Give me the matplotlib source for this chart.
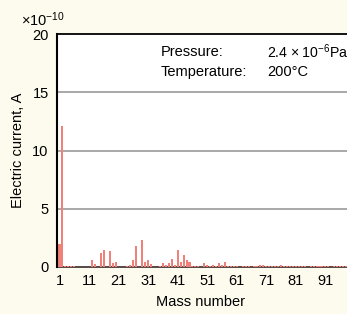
import numpy as np
import matplotlib
matplotlib.use('Agg')
import matplotlib.pyplot as plt

plt.rcParams['font.family'] = ['Liberation Sans', 'DejaVu Sans']
plt.rcParams['mathtext.fontset'] = 'custom'
plt.rcParams['mathtext.rm'] = 'Liberation Sans'
plt.rcParams['mathtext.it'] = 'Liberation Sans:italic'

# ion current (x1e-10 A) for mass numbers 1..99
mass = np.arange(1, 100)
current = [
    2.0, 12.1, 0.12, 0.12, 0.12, 0.12, 0, 0, 0, 0,        # 1-10
    0, 0.58, 0.23, 0, 1.2, 1.44, 0, 1.35, 0.32, 0.4,      # 11-20
    0, 0, 0, 0.12, 0.15, 0.58, 1.78, 0, 2.3, 0.4,         # 21-30
    0.58, 0.23, 0, 0, 0.1, 0.32, 0.15, 0.38, 0.66, 0.15,  # 31-40
    1.44, 0.4, 1.02, 0.58, 0.4, 0.1, 0.1, 0.1, 0, 0.32,   # 41-50
    0.15, 0.1, 0.15, 0.1, 0.32, 0.15, 0.4, 0.1, 0.1, 0.1, # 51-60
    0.1, 0, 0.1, 0.1, 0.1, 0, 0.1, 0.1, 0.18, 0.18,       # 61-70
    0.1, 0.1, 0.1, 0.1, 0.1, 0.18, 0.1, 0.1, 0.1, 0.1,    # 71-80
    0.1, 0.1, 0.1, 0.1, 0, 0.1, 0.1, 0.1, 0.1, 0.1,       # 81-90
    0.1, 0.1, 0, 0.1, 0.1, 0.1, 0.1, 0.1, 0.1,            # 91-99
]
xticks = [1, 11, 21, 31, 41, 51, 61, 71, 81, 91]
yticks = [0, 5, 10, 15, 20]

bg = '#fdfbee'
fig = plt.figure(figsize=(3.47, 3.14), dpi=100, facecolor=bg)
ax = fig.add_axes([57 / 347, 47 / 314, 295 / 347, 233 / 314])
ax.set_facecolor('white')

ax.bar(mass, current, width=0.7, color='#ef8178', zorder=2)

ax.set_xlim(0.15, 100)
ax.set_ylim(0, 20)
ax.set_xticks(xticks)
ax.set_yticks(yticks)
ax.tick_params(length=0, labelsize=10.5, colors='black')
ax.tick_params(axis='y', pad=6)
ax.tick_params(axis='x', pad=5)

for y in [5, 10, 15]:
    ax.axhline(y, color='#a8a8a8', lw=1.4, zorder=1)

ax.spines['right'].set_visible(False)
ax.spines['left'].set_linewidth(1.5)
ax.spines['top'].set_linewidth(1.3)
ax.spines['bottom'].set_linewidth(1.2)
ax.spines['bottom'].set_color('#3a2a2a')
ax.spines['bottom'].set_zorder(1.5)

ax.set_ylabel('Electric current, A', fontsize=10.5)
ax.yaxis.set_label_coords(-0.11, 0.5)

fig.text(200 / 347, 1 - 302 / 314, 'Mass number', fontsize=10.5,
         ha='center', va='center')
fig.text(21 / 347, 1 - 26 / 314, r'$\mathregular{\times10^{-10}}$',
         fontsize=10.5, ha='left', va='baseline')

fig.text(161 / 347, 1 - 52 / 314, 'Pressure:', fontsize=10.5, va='center')
fig.text(161 / 347, 1 - 72 / 314, 'Temperature:', fontsize=10.5, va='center')
fig.text(267 / 347, 1 - 52 / 314, r'$\mathregular{2.4\,\times10^{-6}Pa}$',
         fontsize=10.2, va='center')
fig.text(267 / 347, 1 - 72 / 314, '200\u00b0C', fontsize=10.5, va='center')

fig.savefig('out.png', dpi=100, facecolor=bg)
